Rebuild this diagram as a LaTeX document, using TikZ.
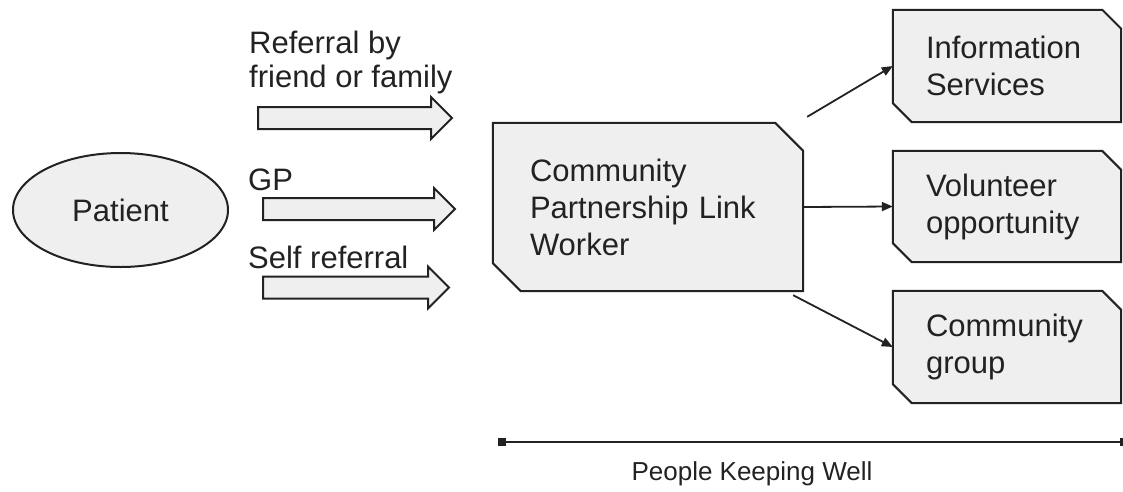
\documentclass[tikz,border=0pt]{standalone}
\usepackage{fontspec}
\setmainfont{Liberation Sans}
\usetikzlibrary{arrows.meta,calc,backgrounds,shapes.geometric}
\definecolor{boxfill}{HTML}{EFEFEF}
\definecolor{ink}{HTML}{222222}
\tikzset{
  boxtext/.style={font=\fontsize{31}{37}\selectfont, text=ink},
  holder/.style={rectangle, inner sep=0pt, align=left, boxtext},
  outline/.style={draw=ink, fill=boxfill, line width=2pt, line join=miter},
  conn/.style={draw=ink, line width=1.8pt, -{Triangle[length=11pt,width=9pt]}},
  lbl/.style={font=\fontsize{31}{34}\selectfont, text=ink, inner sep=0pt, align=left},
  endmark/.style={rectangle, fill=ink, minimum size=8pt, inner sep=0pt},
}
\newcommand\snipoutline[2]{%
  \path[outline] (#1.north west) -- ([xshift=-#2pt]#1.north east) -- ([yshift=-#2pt]#1.north east)
    -- (#1.south east) -- ([xshift=#2pt]#1.south west) -- ([yshift=#2pt]#1.south west) -- cycle;}
\newcommand\blockarrow[3]{%
  \path[outline] (#1,#3-11) -- (#2-21,#3-11) -- (#2-21,#3-21) -- (#2,#3)
    -- (#2-21,#3+21) -- (#2-21,#3+11) -- (#1,#3+11) -- cycle;}
\begin{document}
\begin{tikzpicture}[x=1pt,y=-1pt]
\useasboundingbox (0,0) rectangle (1123,491);

% Patient
\node[ellipse, draw=ink, fill=boxfill, line width=2pt, minimum width=215pt, minimum height=114pt,
      inner sep=0pt, boxtext] (patient) at (120.5,210) {Patient};

% boxes
\node[holder, minimum width=310pt, minimum height=168pt, text width=236pt] (main) at (648,207)
  {Community\\Partnership Link\\Worker};
\node[holder, minimum width=228pt, minimum height=112pt, text width=162pt] (info) at (1007,66)
  {Information\\Services};
\node[holder, minimum width=228pt, minimum height=111pt, text width=162pt] (vol) at (1007,206.5)
  {Volunteer\\opportunity};
\node[holder, minimum width=228pt, minimum height=112pt, text width=162pt] (grp) at (1007,347)
  {Community\\group};

\begin{scope}[on background layer]
  \snipoutline{main}{28}
  \snipoutline{info}{19}
  \snipoutline{vol}{19}
  \snipoutline{grp}{19}
\end{scope}

% block arrows
\blockarrow{258}{452}{118}
\blockarrow{263}{455}{209}
\blockarrow{263}{449}{287.5}

% labels
\node[lbl, anchor=north west] (lref) at (249,31) {Referral by\\friend or family};
\node[lbl, anchor=base west] (lgp) at (248,190) {GP};
\node[lbl, anchor=base west] (lself) at (248,268) {Self referral};

% connectors
\draw[conn] ($(main.north east)+(4,-6)$) -- (info.west);
\draw[conn] (main.east) -- (vol.west);
\draw[conn] ($(main.south east)+(-10,4)$) -- (grp.west);

% bottom span
\node[endmark] (pkl) at (501.5,442) {};
\node[endmark] (pkr) at (1124,442) {};
\draw[draw=ink, line width=2pt] (pkl) -- (pkr);
\node[font=\fontsize{26}{30}\selectfont, text=ink, inner sep=0pt, anchor=base] (pkw) at (752,480) {People Keeping Well};
\end{tikzpicture}
\end{document}
